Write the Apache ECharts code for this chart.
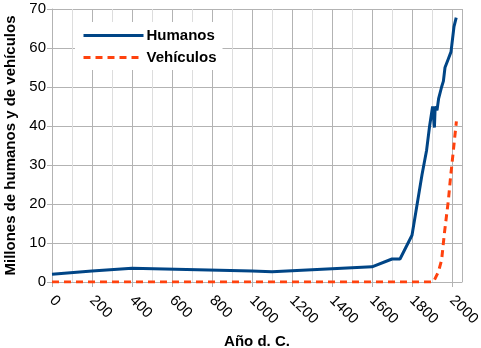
<!DOCTYPE html>
<html>
<head>
<meta charset="utf-8">
<style>
  html, body { margin: 0; padding: 0; background: #fff; }
  #chart { width: 481px; height: 348px; }
</style>
<script src="https://cdn.jsdelivr.net/npm/echarts@6/dist/echarts.min.js"></script>
</head>
<body>
<div id="chart"></div>
<script>
// Población humana (millones) por año
const humanYears  = [0, 200, 400, 1000, 1100, 1600, 1700, 1740, 1800, 1850, 1873, 1888, 1903, 1912, 1916, 1925, 1933, 1940, 1948, 1957, 1965, 1980, 1995, 2010, 2021];
const humanValues = [2, 2.8, 3.5, 2.8, 2.6, 3.9, 5.9, 5.9, 12, 27.5, 33.8, 40, 45, 39.6, 45, 44, 47, 46.5, 50, 51.5, 55, 57, 59, 65.5, 67.8];

// Vehículos (millones) por año
const vehicleYears  = [0, 1907, 1932, 1948, 1962, 1982, 1993, 2007, 2022];
const vehicleValues = [0, 0, 2.6, 5.6, 12.5, 21, 27, 33.8, 41.2];

const xTicks = { min: 0, max: 2050, interval: 200 };
const yTicks = { min: 0, max: 70, interval: 10 };

const seriesNames = ['Humanos', 'Vehículos'];
const xTitle = 'Año d. C.';
const yTitle = 'Millones de humanos y de vehículos';

const toPairs = (xs, ys) => xs.map((x, i) => [x, ys[i]]);

const font = 'Liberation Sans, Arial, sans-serif';
const gridMajor = '#b3b3b3';
const gridMinor = '#dddddd';

const chart = echarts.init(document.getElementById('chart'), null, { renderer: 'canvas' });
chart.setOption({
  animation: false,
  grid: { left: 52, right: 19, top: 9, bottom: 66, containLabel: false, outerBoundsMode: 'none' },
  legend: {
    orient: 'vertical',
    left: 75,
    top: 22,
    padding: [6, 6, 5, 7],
    backgroundColor: '#ffffff',
    itemWidth: 60,
    itemHeight: 14,
    itemGap: 7,
    itemStyle: { opacity: 0 },
    lineStyle: { width: 3 },
    textStyle: { fontFamily: font, fontSize: 15, fontWeight: 'bold', color: '#000', padding: [0, 0, 0, -2] },
    data: seriesNames
  },
  xAxis: [
    {
      // rejilla secundaria cada 100 años
      type: 'value', position: 'bottom', min: xTicks.min, max: xTicks.max, interval: 100,
      axisLine: { show: false }, axisTick: { show: false }, axisLabel: { show: false },
      splitLine: { show: true, lineStyle: { color: gridMinor, width: 1 } }
    },
    {
      type: 'value', position: 'bottom', min: xTicks.min, max: xTicks.max, interval: xTicks.interval,
      name: xTitle, nameLocation: 'middle', nameGap: 46,
      nameTextStyle: { fontFamily: font, fontSize: 15, fontWeight: 'bold', color: '#000' },
      axisLine: { show: true, onZero: false, lineStyle: { color: gridMajor, width: 1 } },
      axisTick: { show: true, inside: false, length: 5, lineStyle: { color: gridMajor } },
      axisLabel: {
        rotate: -45, margin: 16, showMaxLabel: false,
        formatter: (v) => String(v),
        fontFamily: font, fontSize: 15, color: '#000'
      },
      splitLine: { show: true, lineStyle: { color: gridMajor, width: 1 } }
    }
  ],
  yAxis: {
    type: 'value', min: yTicks.min, max: yTicks.max, interval: yTicks.interval,
    name: yTitle, nameLocation: 'middle', nameGap: 32,
    nameTextStyle: { fontFamily: font, fontSize: 15, fontWeight: 'bold', color: '#000' },
    axisLine: { show: true, lineStyle: { color: gridMajor, width: 1 } },
    axisTick: { show: true, inside: false, length: 5, lineStyle: { color: gridMajor } },
    axisLabel: { margin: 6, fontFamily: font, fontSize: 15, color: '#000' },
    splitLine: { show: true, lineStyle: { color: gridMajor, width: 1 } }
  },
  series: [
    {
      name: seriesNames[0], type: 'line', xAxisIndex: 1,
      data: toPairs(humanYears, humanValues),
      symbol: 'none', smooth: false,
      lineStyle: { color: '#004586', width: 3 },
      itemStyle: { color: '#004586' },
      z: 3
    },
    {
      name: seriesNames[1], type: 'line', xAxisIndex: 1,
      data: toPairs(vehicleYears, vehicleValues),
      symbol: 'none', smooth: false,
      lineStyle: { color: '#ff420e', width: 3, type: [7, 5] },
      itemStyle: { color: '#ff420e' },
      z: 2
    }
  ]
});
</script>
</body>
</html>
